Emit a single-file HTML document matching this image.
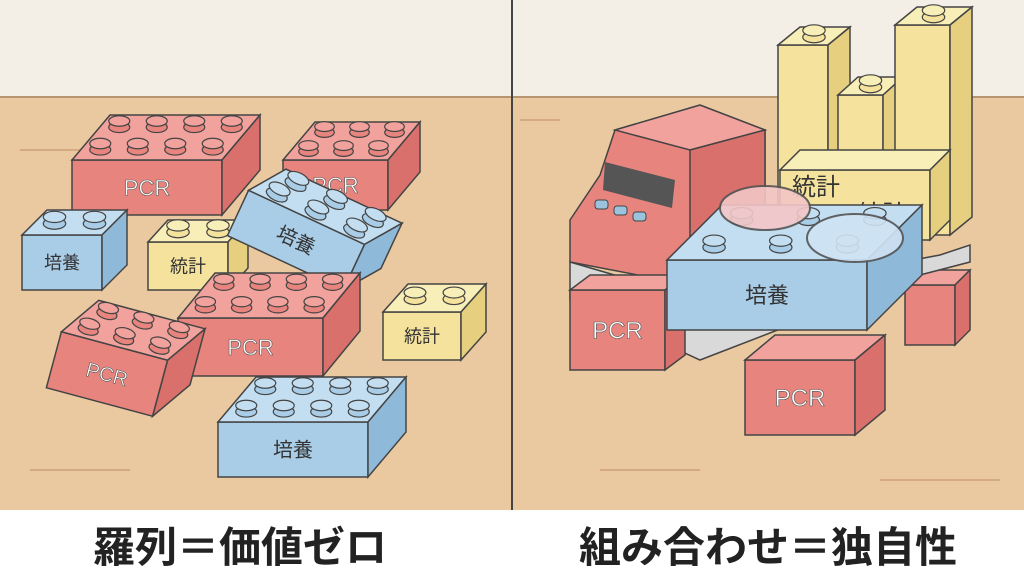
<!DOCTYPE html>
<html><head><meta charset="utf-8"><style>
html,body{margin:0;padding:0;width:1024px;height:576px;overflow:hidden;background:#fff}
svg{display:block}
text{font-family:"Liberation Sans","Noto Sans CJK JP",sans-serif}
</style></head><body>
<svg id="s" width="1024" height="576" viewBox="0 0 1024 576" xmlns="http://www.w3.org/2000/svg">
<rect x="0" y="0" width="1024" height="100" fill="#f3efe7"/>
<rect x="0" y="96" width="1024" height="414" fill="#ebc9a0"/>
<line x1="0" y1="97" x2="1024" y2="97" stroke="#b89470" stroke-width="2"/>
<path d="M20 150 H120 M600 470 H700 M30 470 H130 M880 480 H1000 M520 120 H560" stroke="#d6aa80" stroke-width="2"/>
<rect x="0" y="510" width="1024" height="66" fill="#fff"/>
<line x1="512" y1="0" x2="512" y2="510" stroke="#444" stroke-width="2"/>
<g id="g"></g>
<text x="240" y="562" font-size="42" font-weight="bold" text-anchor="middle" fill="#222">羅列＝価値ゼロ</text>
<text x="768" y="562" font-size="42" font-weight="bold" text-anchor="middle" fill="#222">組み合わせ＝独自性</text>
</svg>
<script>
const C={r:['#e8847e','#f1a29c','#d9706c'],b:['#a9cde7','#c3def0','#8fb9d8'],y:['#f4e29d','#f8eeb8','#e6d080'],g:['#d0d0d0','#e6e6e6','#bbb']};
let out='';
function brick(x,y,w,h,dx,dy,c,label,rows,cols,rot,fs,tc){
 const k=C[c];let s='';
 s+=`<rect x="${x}" y="${y}" width="${w}" height="${h}" fill="${k[0]}" stroke="#444" stroke-width="1.5"/>`;
 s+=`<polygon points="${x},${y} ${x+w},${y} ${x+w+dx},${y-dy} ${x+dx},${y-dy}" fill="${k[1]}" stroke="#444" stroke-width="1.5"/>`;
 s+=`<polygon points="${x+w},${y} ${x+w+dx},${y-dy} ${x+w+dx},${y+h-dy} ${x+w},${y+h}" fill="${k[2]}" stroke="#444" stroke-width="1.5"/>`;
 for(let i=0;i<rows;i++)for(let j=0;j<cols;j++){
  const fx=(j+0.5)/cols,fy=(i+0.5)/rows;
  const cx=x+fx*w+fy*dx,cy=y-fy*dy;
  const r=Math.min(w/cols,40)*0.28;
  s+=`<rect x="${cx-r}" y="${cy-r*0.5}" width="${2*r}" height="${r*0.6}" fill="${k[0]}"/>`;
  s+=`<ellipse cx="${cx}" cy="${cy+r*0.1}" rx="${r}" ry="${r*0.5}" fill="${k[0]}" stroke="#444" stroke-width="1.2"/>`;
  s+=`<ellipse cx="${cx}" cy="${cy-r*0.5}" rx="${r}" ry="${r*0.5}" fill="${k[1]}" stroke="#444" stroke-width="1.2"/>`;
 }
 if(label)s+=`<text x="${x+w/2}" y="${y+h/2+(fs||20)*0.36}" font-size="${fs||20}" text-anchor="middle" fill="${tc||'#333'}" ${tc?'stroke="#555" stroke-width="0.6"':''}>${label}</text>`;
 if(rot)s=`<g transform="rotate(${rot} ${x+w/2} ${y+h/2})">${s}</g>`;
 out+=s;
}
// left panel
brick(72,160,150,55,38,45,'r','PCR',2,4,0,22,'#fff');
brick(283,160,105,50,32,38,'r','PCR',2,3,0,22,'#fff');
brick(22,235,80,55,25,25,'b','培養',1,2,0,18);
brick(148,242,80,48,20,22,'y','統計',1,2,0,18);
brick(232,215,128,50,25,35,'b','培養',2,3,25,20);
brick(178,318,145,58,37,45,'r','PCR',2,4,0,22,'#fff');
brick(52,345,110,58,28,40,'r','PCR',2,3,15,20,'#fff');
brick(383,312,78,48,25,28,'y','統計',1,2,0,18);
brick(218,422,150,55,38,45,'b','培養',2,4,0,20);
// right panel
brick(778,45,50,170,22,18,'y','',1,1);
brick(838,95,45,130,20,18,'y','',1,1);
brick(895,25,55,210,22,18,'y','',1,1);
brick(780,170,150,70,20,20,'y','',0,0);
out+=`<text x="792" y="195" font-size="24" fill="#333">統計</text><text x="858" y="222" font-size="24" fill="#333">統計</text>`;
// back legs
brick(905,285,50,60,15,15,'r','',0,0);
// slab
out+=`<polygon points="570,262 700,300 940,255 970,245 970,262 920,275 700,360 570,300" fill="#d9d9d9" stroke="#444" stroke-width="1.5"/>`;
// machine
out+=`<polygon points="570,220 600,175 615,130 700,105 765,130 765,275 690,285 570,262" fill="#e8847e" stroke="#444" stroke-width="1.5"/>`;
out+=`<polygon points="615,130 700,105 765,130 690,150" fill="#f1a29c" stroke="#444" stroke-width="1.5"/>`;
out+=`<polygon points="690,150 765,130 765,275 690,290" fill="#d9706c" stroke="#444" stroke-width="1.5"/>`;
out+=`<polygon points="605,162 675,180 672,208 603,190" fill="#555"/>`;
out+=`<rect x="595" y="200" width="13" height="9" rx="3" fill="#9cc3de" stroke="#444"/><rect x="614" y="206" width="13" height="9" rx="3" fill="#9cc3de" stroke="#444"/><rect x="633" y="212" width="13" height="9" rx="3" fill="#9cc3de" stroke="#444"/>`;
// front legs
brick(570,290,95,80,20,15,'r','PCR',0,0,0,24,'#fff');
brick(745,360,110,75,30,25,'r','PCR',0,0,0,24,'#fff');
// blue
brick(667,260,200,70,55,55,'b','培養',2,3,0,22);
out+=`<ellipse cx="765" cy="208" rx="45" ry="22" fill="#f3c6c6" stroke="#555" stroke-width="2" opacity=".9"/>`;
out+=`<ellipse cx="855" cy="238" rx="48" ry="24" fill="#cfe3f3" stroke="#555" stroke-width="2" opacity=".9"/>`;
document.getElementById('g').innerHTML=out;
</script>
</body></html>
